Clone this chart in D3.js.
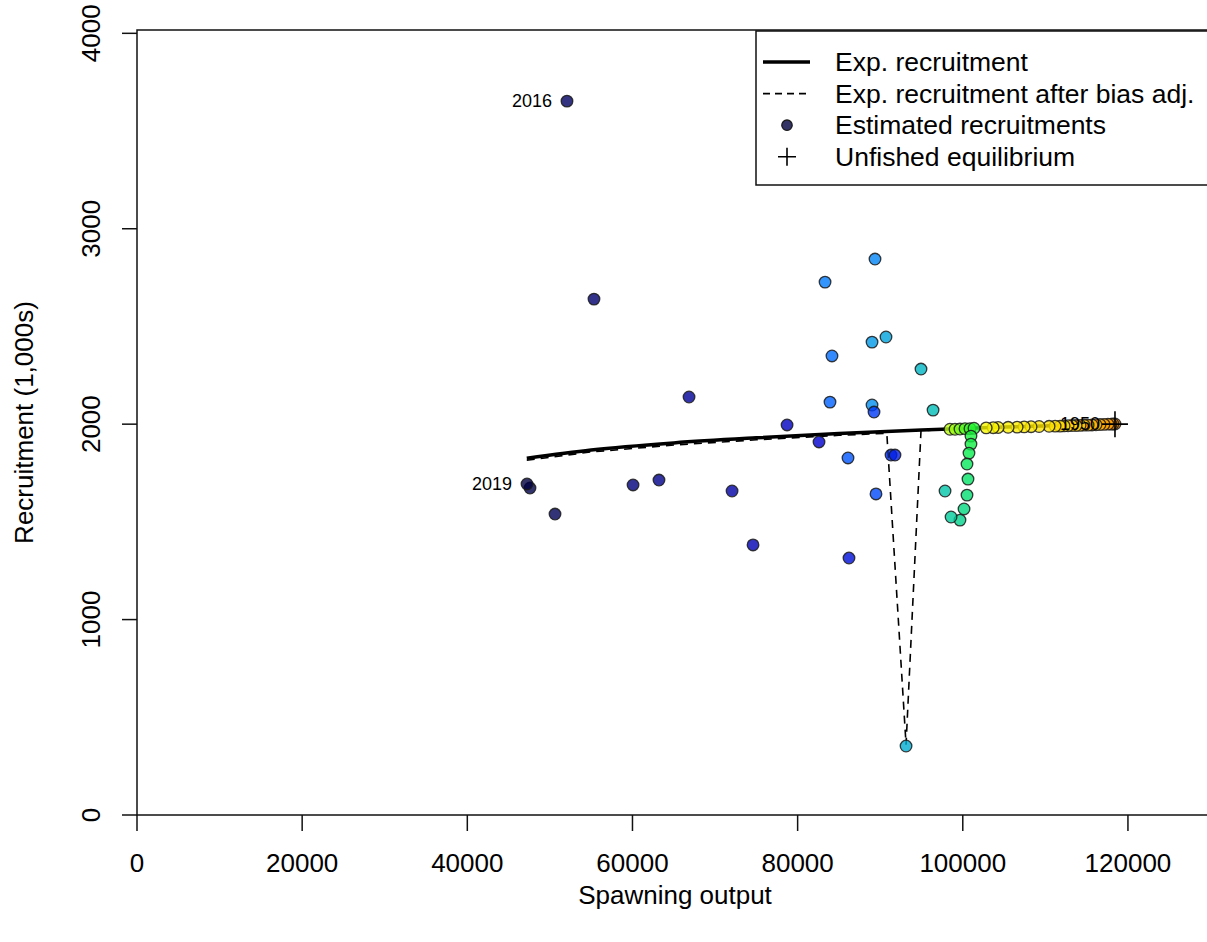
<!DOCTYPE html>
<html>
<head>
<meta charset="utf-8">
<script src="https://cdn.jsdelivr.net/npm/d3@7"></script>
<style>
  body { margin: 0; background: #fff; }
  svg text { font-family: "Liberation Sans", Arial, sans-serif; fill: #000; }
</style>
</head>
<body>
<svg id="chart"></svg>
<script>
// years of the time series
var years = d3.range(1950, 2020);

// spawning output for each year (1950..2019)
var ssb = [118430, 118190, 117950, 117580, 117100, 116620, 116130, 115650, 115170, 114680,
           114200, 113720, 113230, 112750, 112270, 111780, 111180, 110450, 109240, 108270,
           107430, 106580, 105490, 104280, 103680, 102830,
           98450, 99060, 99660, 100270, 100870, 101360,
           100990, 100990, 100750, 100510, 100630, 100510, 100150, 99660, 98580,
           97850, 96400, 94940, 93130, 90700, 89010, 89010, 89370, 83320, 84160,
           83920, 86100, 89490, 89250, 91310, 91790, 86220, 82590, 78720, 74600,
           72060, 66850, 63210, 60070, 55340, 52070, 50620, 47590, 47230];

// estimated recruitment (1,000s) for each year
var recruits = [2001, 2001, 2000, 2000, 1999, 1998, 1997, 1996, 1995, 1995,
                1994, 1993, 1993, 1992, 1991, 1990, 1990, 1989, 1988, 1987,
                1986, 1985, 1984, 1983, 1982, 1981,
                1974, 1974, 1975, 1977, 1977, 1979,
                1939, 1898, 1852, 1796, 1719, 1637, 1566, 1509, 1525,
                1658, 2072, 2282, 353, 2446, 2420, 2098, 2845, 2727, 2349,
                2113, 1827, 1643, 2062, 1842, 1842, 1315, 1909, 1996, 1382,
                1658, 2139, 1714, 1689, 2640, 3653, 1540, 1673, 1694];

// expected recruitment curve
var expSSB = [47200, 55000, 65000, 75000, 85000, 95000, 105000, 118430];
var expRec = [1826, 1868, 1904, 1930, 1952, 1970, 1985, 2001];

// expected recruitment after bias adjustment (dashed line)
var biasSSB = [47200, 55000, 65000, 75000, 85000, 90800, 93130, 94940, 100000, 118430];
var biasRec = [1815, 1858, 1893, 1920, 1943, 1953, 360, 1966, 1978, 2001];

// unfished equilibrium
var unfishedSSB = 118430;
var unfishedRec = 2000;

var labelYears = [1950, 2016, 2019];
var xTicks = [0, 20000, 40000, 60000, 80000, 100000, 120000];
var yTicks = [0, 1000, 2000, 3000, 4000];

var legendLabels = ["Exp. recruitment", "Exp. recruitment after bias adj.",
                    "Estimated recruitments", "Unfished equilibrium"];

var screen = { width: 1207, height: 942 };
var margins = { top: 30, bottom: 127, left: 137, right: -6 };

var svg = d3.select("#chart")
            .attr("width", screen.width)
            .attr("height", screen.height);

var xScale = d3.scaleLinear()
               .domain([0, 130300])
               .range([margins.left, screen.width - margins.right]);

var yScale = d3.scaleLinear()
               .domain([0, 4017])
               .range([screen.height - margins.bottom, margins.top]);

// point colours, dark navy for recent years to orange for 1950
var rich = function(x)
{
  var r = 1 / (1 + Math.exp(20 - 35 * x));
  var g = Math.min(Math.max(0, -0.8 + 6 * x - 5 * x * x), 1);
  var b = Math.exp(-0.5 * Math.pow((x - 0.25) / 0.15, 2));
  return d3.rgb(r * 255, g * 255, b * 255).toString();
};
var rampPos = d3.scaleLinear()
                .domain([1950, 1975, 1976, 1981, 1990, 2019])
                .range([0.9, 0.68, 0.6, 0.52, 0.4, 0]);
var colour = function(year)
{
  return rich(rampPos(year));
};

var fontSize = 26;

// box
svg.append("rect")
   .attr("x", xScale(0))
   .attr("y", margins.top)
   .attr("width", xScale(130300) - xScale(0))
   .attr("height", yScale(0) - margins.top)
   .attr("fill", "none")
   .attr("stroke", "#111")
   .attr("stroke-width", 1.5);

// x axis ticks and labels
var xAxis = svg.append("g");
xAxis.selectAll("line")
     .data(xTicks)
     .enter()
     .append("line")
     .attr("x1", function(d){ return xScale(d); })
     .attr("x2", function(d){ return xScale(d); })
     .attr("y1", yScale(0))
     .attr("y2", yScale(0) + 16)
     .attr("stroke", "#111")
     .attr("stroke-width", 1.5);
xAxis.selectAll("text")
     .data(xTicks)
     .enter()
     .append("text")
     .attr("x", function(d){ return xScale(d); })
     .attr("y", 872)
     .attr("text-anchor", "middle")
     .attr("font-size", fontSize)
     .text(function(d){ return d; });

// y axis ticks and labels
var yAxis = svg.append("g");
yAxis.selectAll("line")
     .data(yTicks)
     .enter()
     .append("line")
     .attr("x1", xScale(0) - 15)
     .attr("x2", xScale(0))
     .attr("y1", function(d){ return yScale(d); })
     .attr("y2", function(d){ return yScale(d); })
     .attr("stroke", "#111")
     .attr("stroke-width", 1.5);
yAxis.selectAll("text")
     .data(yTicks)
     .enter()
     .append("text")
     .attr("transform", function(d){ return "translate(100," + yScale(d) + ") rotate(-90)"; })
     .attr("text-anchor", "middle")
     .attr("font-size", fontSize)
     .text(function(d){ return d; });

// axis titles
svg.append("text")
   .attr("x", (xScale(0) + xScale(130300)) / 2)
   .attr("y", 904)
   .attr("text-anchor", "middle")
   .attr("font-size", fontSize)
   .text("Spawning output");

svg.append("text")
   .attr("transform", "translate(33," + (yScale(0) + margins.top) / 2 + ") rotate(-90)")
   .attr("text-anchor", "middle")
   .attr("font-size", fontSize)
   .text("Recruitment (1,000s)");

var plot = svg.append("g");

// bias adjusted curve
var biasLine = d3.line()
                 .x(function(d){ return xScale(d[0]); })
                 .y(function(d){ return yScale(d[1]); });
plot.append("path")
    .datum(biasSSB.map(function(s, i){ return [s, biasRec[i]]; }))
    .attr("d", biasLine)
    .attr("fill", "none")
    .attr("stroke", "#000")
    .attr("stroke-width", 1.6)
    .attr("stroke-dasharray", "8,6");

// expected recruitment curve
plot.append("path")
    .datum(expSSB.map(function(s, i){ return [s, expRec[i]]; }))
    .attr("d", d3.line()
                 .curve(d3.curveMonotoneX)
                 .x(function(d){ return xScale(d[0]); })
                 .y(function(d){ return yScale(d[1]); }))
    .attr("fill", "none")
    .attr("stroke", "#000")
    .attr("stroke-width", 3.5);

// estimated recruitments
var points = years.map(function(y, i){ return { year: y, ssb: ssb[i], rec: recruits[i] }; });
plot.selectAll("circle")
    .data(points)
    .enter()
    .append("circle")
    .attr("cx", function(d){ return xScale(d.ssb); })
    .attr("cy", function(d){ return yScale(d.rec); })
    .attr("r", 5.8)
    .attr("fill", function(d){ return colour(d.year); })
    .attr("fill-opacity", 0.8)
    .attr("stroke", "#1a1a1a")
    .attr("stroke-opacity", 0.85)
    .attr("stroke-width", 1.3);

// year labels
plot.selectAll("text.yr")
    .data(points.filter(function(d){ return labelYears.indexOf(d.year) >= 0; }))
    .enter()
    .append("text")
    .attr("class", "yr")
    .attr("x", function(d){ return xScale(d.ssb) - 15; })
    .attr("y", function(d){ return yScale(d.rec) + 6; })
    .attr("text-anchor", "end")
    .attr("font-size", 18)
    .text(function(d){ return d.year; });

// unfished equilibrium
var cx = xScale(unfishedSSB), cy = yScale(unfishedRec);
plot.append("path")
    .attr("d", "M" + (cx - 13) + "," + cy + "H" + (cx + 13) + "M" + cx + "," + (cy - 13) + "V" + (cy + 13))
    .attr("stroke", "#000")
    .attr("stroke-width", 1.6);

// legend
var legend = svg.append("g");
legend.append("rect")
      .attr("x", 756)
      .attr("y", 31)
      .attr("width", 470)
      .attr("height", 154)
      .attr("fill", "#fff")
      .attr("stroke", "#111")
      .attr("stroke-width", 1.5);

var rowY = function(k){ return 62 + k * 31.6; };

legend.append("line")
      .attr("x1", 763).attr("x2", 810)
      .attr("y1", rowY(0)).attr("y2", rowY(0))
      .attr("stroke", "#000").attr("stroke-width", 3.5);
legend.append("line")
      .attr("x1", 763).attr("x2", 811)
      .attr("y1", rowY(1)).attr("y2", rowY(1))
      .attr("stroke", "#000").attr("stroke-width", 1.6)
      .attr("stroke-dasharray", "7,5");
legend.append("circle")
      .attr("cx", 787).attr("cy", rowY(2))
      .attr("r", 5.2)
      .attr("fill", colour(2019))
      .attr("fill-opacity", 0.8)
      .attr("stroke", "#1a1a1a")
      .attr("stroke-width", 1.3);
legend.append("path")
      .attr("d", "M778," + rowY(3) + "H796M787," + (rowY(3) - 9) + "V" + (rowY(3) + 9))
      .attr("stroke", "#000")
      .attr("stroke-width", 1.6);

legend.selectAll("text")
      .data(legendLabels)
      .enter()
      .append("text")
      .attr("x", 835)
      .attr("y", function(d, k){ return rowY(k) + 9; })
      .attr("font-size", 26.5)
      .text(function(d){ return d; });
</script>
</body>
</html>
